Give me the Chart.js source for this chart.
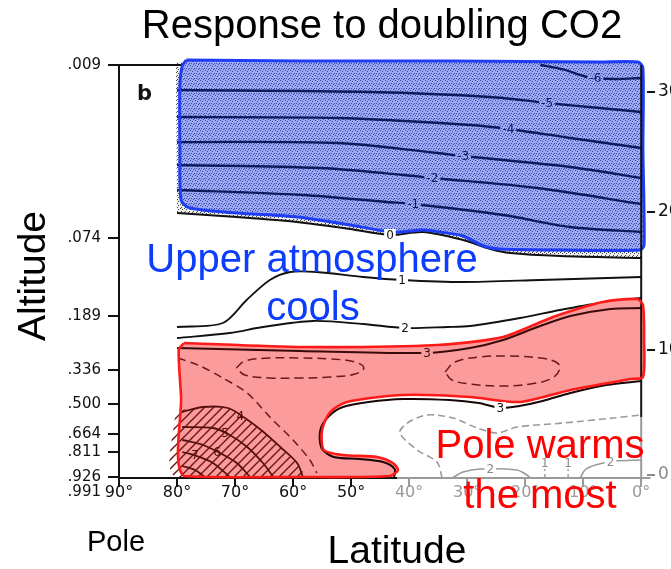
<!DOCTYPE html>
<html>
<head>
<meta charset="utf-8">
<title>Response to doubling CO2</title>
<script src="https://cdn.jsdelivr.net/npm/chart.js@4.4.1/dist/chart.umd.min.js"></script>
<style>
  html, body { margin: 0; padding: 0; background: #fff; overflow: hidden; }
  #wrap { width: 700px; height: 569px; }
</style>
</head>
<body>
<div id="wrap"><canvas id="chart" width="700" height="569"></canvas></div>
<script>
// axes: x = latitude (deg), y = position of the model level (bottom = 0)
const latTicks = [90, 80, 70, 60, 50, 40, 30, 20, 10, 0];
const pressureLabels = ['.009', '.074', '.189', '.336', '.500', '.664', '.811', '.926'];
const pressureLevels = [413, 240, 162, 108, 74, 44, 26, 1];
const kmLabels = ['30', '20', '10', '0'];
const kmLevels = [386, 266, 128, 3];

// shaded areas [lat, level]
const stippleBand = [[80.2,416],[0,416],[0,220],[14,222],[22.6,225],[26,229],[30.7,238],[37.6,246],[43.3,243],[50.2,249],[59.3,256],[69.7,261],[80,265],[80.2,416]];
const blueRegion = [[78.4,418],[58.8,417],[32.9,417],[7.1,416],[0.5,416],[-0.3,410],[-0.3,328],[-0.5,233],[0.2,228],[14,228],[24.3,229],[27.2,232],[30.7,242],[34.7,246],[37.6,248],[41.6,246],[43.3,246],[50.2,253],[59.3,261],[69.7,265],[77.8,270],[79.3,278],[79.5,328],[79.5,393],[79.1,412],[78.4,418]];
const redRegion = [[78.8,135],[58.3,131],[35.2,133],[23.8,141],[15.2,161],[6.6,176],[0.7,179],[-0.3,173],[-0.5,138],[-0.3,101],[1.9,99],[12.2,88],[20.9,76],[29.5,81],[41,83],[50.7,76],[53.6,66],[55,48],[54.7,28],[51.4,23],[45.5,21],[42.8,15],[41.9,8],[43.3,2],[58.3,1],[78.8,2],[79.3,81],[79.7,128],[78.8,135]];
const hatchRegion = [[80.3,67],[75.5,71],[71.2,70],[68.3,60],[65.3,47],[62.2,31],[59.3,15],[58.3,1],[80.3,1],[80.3,67]];

// stratosphere contours (cooling)
const cm6 = [[17.4,413],[13.1,408],[9.3,401],[4.5,399],[0,400]];
const cm5 = [[80,388],[46.7,386],[26,381],[16.2,375],[7.1,370],[0,366]];
const cm4 = [[80,361],[52.4,360],[29.5,353],[22.9,349],[12.2,340],[0,330]];
const cm3 = [[80,336],[52.4,335],[35.2,325],[30.7,322],[12.2,311],[0,300]];
const cm2 = [[80,313],[55.3,310],[41,303],[36,300],[17.9,290],[0,274]];
const cm1 = [[80,288],[58.3,283],[43.8,276],[39.3,274],[23.8,263],[12.2,251],[0,246]];
const c0 = [[80,265],[69.7,261],[59.3,256],[50.2,249],[43.3,243],[37.6,246],[30.7,238],[26,229],[22.6,225],[14,222],[0,220]];

// troposphere contours (warming)
const c1 = [[80,151],[72.1,155],[68,178],[64,198],[60.5,206],[55.9,206],[47.9,201],[41.2,198],[30.7,196],[17.4,198],[0,201]];
const c2 = [[80,140],[70.9,145],[65.2,151],[56.6,157],[47.9,154],[40.7,150],[33.4,151],[29.5,152],[20.9,160],[14,168],[7.1,175],[0,180]];
const c3Upper = [[80,130],[58.8,127],[36.9,125],[29.5,130],[23.8,138],[17.4,152],[12.2,162],[5.3,169],[0,170]];
const c3Lower = [[0,97],[6,93],[12.2,85],[17,77],[21,72],[24.3,70],[28,75],[33,78],[41,79],[47,76],[51.4,71],[53.8,62],[55.3,48],[55.1,30],[53,21],[48.5,19],[44.5,16],[42.5,9],[42.6,0]];
const dashDiag = [[79.8,120],[76,112],[72.1,100],[67.9,85],[64,61],[60,38],[57.1,18],[55.9,5]];
const ellipse1 = [[69.8,110],[68.3,117],[64,120],[58.8,120],[53.6,119],[49.3,116],[47.8,110],[49.3,104],[53.6,101],[58.8,100],[64,100],[68.3,103],[69.8,110]];
const ellipse2 = [[33.8,106],[32.1,116],[27.8,121],[22.6,122],[17.4,120],[14.7,116],[14,110],[15.3,100],[19.1,94],[24.3,92],[29.5,94],[32.6,98],[33.8,106]];
const c4 = [[79.1,66],[75.5,71],[71.2,70],[68.3,60],[65.3,47],[62.2,31],[59.3,15],[58.3,1]];
const c5 = [[79.1,51],[73.8,50],[71.2,44],[67.9,31],[65.2,15],[63.4,1]];
const c6 = [[79.1,38],[75.5,33],[72.6,25],[69.7,15],[67.4,1]];
const c7 = [[79.1,26],[76.6,22],[73.8,15],[70.9,1]];
const c8 = [[79.1,12],[76.9,8],[75.2,1]];

// faded contours near the surface, low latitudes
const greyDash = [[34.3,0],[35.2,16],[38.6,28],[41.6,45],[40.3,55],[36.9,63],[32.4,60],[28.3,50],[24.8,45],[21.4,51],[13.4,55],[4.8,60],[0,63]];
const greyArc1 = [[32.6,0],[30.7,6],[27.8,9],[21.4,8],[19.7,3],[19.1,0]];
const greyArc2 = [[10.5,0],[9.7,8],[7.9,13],[4.5,17],[0,18]];
const greyTick1 = [[16.6,0],[16.6,15]];
const greyTick2 = [[12.6,0],[12.6,15]];

// contour value labels [text, lat, level, style]
const contourLabels = [
    ['-6', 7.9, 400, 'blue'], ['-5', 16.2, 375, 'blue'], ['-4', 22.9, 349, 'blue'],
    ['-3', 30.7, 322, 'blue'], ['-2', 36, 300, 'blue'], ['-1', 39.3, 274, 'blue'],
    ['0', 43.3, 243, 'white'], ['1', 41.2, 198, 'white'], ['2', 40.7, 150, 'white'],
    ['3', 36.9, 125, 'red'], ['3', 24.3, 70, 'white'],
    ['4', 69.1, 62, 'hatch'], ['5', 71.7, 45, 'hatch'], ['6', 73.1, 26, 'hatch'], ['7', 76.9, 23, 'hatch'],
    ['2', 26, 9, 'grey'], ['2', 5.3, 16, 'grey'], ['1', 16.6, 15, 'grey'], ['1', 12.6, 15, 'grey']
];

function makeStipple(size, base, dot, dots) {
    const c = document.createElement('canvas');
    c.width = c.height = size;
    const g = c.getContext('2d');
    g.fillStyle = base;
    g.fillRect(0, 0, size, size);
    g.fillStyle = dot;
    dots.forEach(d => g.fillRect(d[0], d[1], 1, 1));
    return g.createPattern(c, 'repeat');
}

function makeHatch(size, color) {
    const c = document.createElement('canvas');
    c.width = c.height = size;
    const g = c.getContext('2d');
    g.strokeStyle = color;
    g.lineWidth = 1.4;
    g.beginPath();
    g.moveTo(0, size); g.lineTo(size, 0);
    g.moveTo(-1, 1); g.lineTo(1, -1);
    g.moveTo(size - 1, size + 1); g.lineTo(size + 1, size - 1);
    g.stroke();
    return g.createPattern(c, 'repeat');
}

const bluePattern = makeStipple(5, '#9ba8f4', '#3d4aa6', [[0,0],[2,1],[4,3],[1,3],[3,4]]);
const greyPattern = makeStipple(4, '#eeeeee', '#444444', [[0,0],[2,1],[1,3]]);
const hatchPattern = makeHatch(9, '#6a1414');

const labelStyle = {
    blue: { fg: '#0d1a5c', bg: bluePattern },
    white: { fg: '#111', bg: '#fff' },
    red: { fg: '#3a0a0a', bg: '#fb9b9b' },
    hatch: { fg: '#4a0c0c', bg: null },
    grey: { fg: '#8a8a8a', bg: '#fff' }
};

let order = 1000;
function series(points, opts) {
    return Object.assign({
        data: points.map(p => ({ x: p[0], y: p[1] })),
        pointRadius: 0,
        borderWidth: 2,
        borderColor: '#111',
        backgroundColor: 'transparent',
        fill: false,
        tension: 0.3,
        clip: false,
        order: order--
    }, opts);
}

const datasets = [
    series(stippleBand, { borderWidth: 0, backgroundColor: greyPattern, fill: 'shape', tension: 0 }),
    series([[90,413],[0,413]], { tension: 0 }),
    series(blueRegion, { borderWidth: 0, backgroundColor: bluePattern, fill: 'shape', tension: 0.25 }),
    series(cm6, { borderColor: '#0d1a5c', borderWidth: 2.3 }),
    series(cm5, { borderColor: '#0d1a5c', borderWidth: 2.3 }),
    series(cm4, { borderColor: '#0d1a5c', borderWidth: 2.3 }),
    series(cm3, { borderColor: '#0d1a5c', borderWidth: 2.3 }),
    series(cm2, { borderColor: '#0d1a5c', borderWidth: 2.3 }),
    series(cm1, { borderColor: '#0d1a5c', borderWidth: 2.3 }),
    series(c0, { borderColor: '#111' }),
    series(blueRegion, { borderColor: '#1f3df5', borderWidth: 3, tension: 0.25 }),
    series(c1, { borderWidth: 1.8 }),
    series(c2, { borderWidth: 1.8 }),
    series(redRegion, { borderWidth: 0, backgroundColor: '#fb9b9b', fill: 'shape', tension: 0.25 }),
    series(c3Upper, { borderColor: '#3a0a0a' }),
    series(c3Lower, { borderColor: '#1a0505' }),
    series(dashDiag, { borderColor: '#6b1a1a', borderWidth: 1.5, borderDash: [8, 5] }),
    series(ellipse1, { borderColor: '#6b1a1a', borderWidth: 1.5, borderDash: [9, 5], tension: 0.4 }),
    series(ellipse2, { borderColor: '#6b1a1a', borderWidth: 1.5, borderDash: [9, 5], tension: 0.4 }),
    series(hatchRegion, { borderWidth: 0, backgroundColor: hatchPattern, fill: 'shape', tension: 0.3 }),
    series(c4, { borderColor: '#5a1010', borderWidth: 1.8 }),
    series(c5, { borderColor: '#5a1010', borderWidth: 1.8 }),
    series(c6, { borderColor: '#5a1010', borderWidth: 1.8 }),
    series(c7, { borderColor: '#5a1010', borderWidth: 1.8 }),
    series(c8, { borderColor: '#5a1010', borderWidth: 1.8 }),
    series(greyDash, { borderColor: '#9a9a9a', borderWidth: 1.6, borderDash: [7, 4] }),
    series(greyArc1, { borderColor: '#9a9a9a', borderWidth: 1.6 }),
    series(greyArc2, { borderColor: '#9a9a9a', borderWidth: 1.6 }),
    series(greyTick1, { borderColor: '#9a9a9a', borderWidth: 1.4, borderDash: [4, 3], tension: 0 }),
    series(greyTick2, { borderColor: '#9a9a9a', borderWidth: 1.4, borderDash: [4, 3], tension: 0 }),
    // frame
    series([[90,0],[90,413]], { tension: 0 }),
    series([[0,61],[0,413]], { tension: 0 }),
    series([[0,0],[0,61]], { borderColor: '#9a9a9a', tension: 0 }),
    series([[90,0],[42,0]], { tension: 0 }),
    series([[42,0],[-1.6,0]], { borderColor: '#9a9a9a', tension: 0 }),
    series(redRegion, { borderColor: '#ff1a1a', borderWidth: 2.6, tension: 0.25 })
];

const figureText = {
    id: 'figureText',
    afterDatasetsDraw(chart) {
        const { ctx, scales: { x, y } } = chart;
        ctx.save();
        ctx.font = '12px "DejaVu Sans", sans-serif';
        ctx.textAlign = 'center';
        ctx.textBaseline = 'middle';
        contourLabels.forEach(([t, lat, lev, kind]) => {
            const px = x.getPixelForValue(lat);
            const py = y.getPixelForValue(lev);
            const st = labelStyle[kind];
            const w = ctx.measureText(t).width + 4;
            if (st.bg) {
                ctx.fillStyle = st.bg;
                ctx.fillRect(px - w / 2, py - 6, w, 12);
            }
            ctx.fillStyle = st.fg;
            ctx.fillText(t, px, py + 1);
        });
        ctx.restore();
    },
    afterDraw(chart) {
        const ctx = chart.ctx;
        const font = size => size + 'px "Liberation Sans", Arial, sans-serif';
        ctx.save();
        ctx.textBaseline = 'alphabetic';
        ctx.textAlign = 'center';
        ctx.fillStyle = '#000';
        ctx.font = font(40);
        ctx.fillText('Response to doubling CO2', 382, 38);
        ctx.font = font(39);
        ctx.fillText('Latitude', 397, 563);
        ctx.save();
        ctx.translate(45, 276);
        ctx.rotate(-Math.PI / 2);
        ctx.fillText('Altitude', 0, 0);
        ctx.restore();
        ctx.textAlign = 'left';
        ctx.font = font(29);
        ctx.fillText('Pole', 87, 551);

        ctx.textAlign = 'center';
        ctx.font = font(40);
        ctx.fillStyle = '#0d3dfc';
        ctx.fillText('Upper atmosphere', 312, 272);
        ctx.fillText('cools', 313, 320);
        ctx.fillStyle = '#ff0000';
        ctx.fillText('Pole warms', 540, 458);
        ctx.fillText('the most', 540, 508);

        ctx.fillStyle = '#111';
        ctx.textAlign = 'left';
        ctx.font = 'bold 21px "DejaVu Sans", sans-serif';
        ctx.fillText('b', 137, 100);
        ctx.textAlign = 'right';
        ctx.textBaseline = 'middle';
        ctx.font = '15px "DejaVu Sans", sans-serif';
        ctx.fillText('.991', 101, 492);
        ctx.restore();
    }
};

new Chart(document.getElementById('chart'), {
    type: 'line',
    data: { datasets: datasets },
    options: {
        responsive: false,
        animation: false,
        events: [],
        layout: { padding: { top: 58, left: 0, right: 0, bottom: 0 } },
        plugins: { legend: { display: false }, tooltip: { enabled: false }, title: { display: false } },
        scales: {
            x: {
                type: 'linear', min: -1, max: 90, reverse: true,
                afterBuildTicks: s => { s.ticks = latTicks.map(v => ({ value: v })); },
                afterFit: s => { s.height = 91; },
                ticks: {
                    autoSkip: false, maxRotation: 0, padding: -2,
                    callback: v => v + '°',
                    color: c => c.tick && c.tick.value <= 40 ? '#9a9a9a' : '#111',
                    font: { family: 'DejaVu Sans', size: 16, lineHeight: 1 }
                },
                grid: {
                    drawOnChartArea: false, tickLength: 9, lineWidth: 2,
                    color: c => c.tick && c.tick.value <= 40 ? '#9a9a9a' : '#111'
                },
                border: { display: false }
            },
            y: {
                type: 'linear', min: 0, max: 420,
                afterBuildTicks: s => { s.ticks = pressureLevels.map(v => ({ value: v })); },
                afterFit: s => { s.width = 119; },
                ticks: {
                    autoSkip: false, padding: 7, color: '#111',
                    callback: v => pressureLabels[pressureLevels.indexOf(v)],
                    font: { family: 'DejaVu Sans', size: 15 }
                },
                grid: { drawOnChartArea: false, tickLength: 11, lineWidth: 2, color: '#111' },
                border: { display: false }
            },
            y2: {
                type: 'linear', position: 'right', min: 0, max: 420,
                afterBuildTicks: s => { s.ticks = kmLevels.map(v => ({ value: v })); },
                afterFit: s => { s.width = 53; },
                ticks: {
                    autoSkip: false, padding: 3,
                    callback: v => kmLabels[kmLevels.indexOf(v)],
                    color: c => c.tick && c.tick.value < 50 ? '#8a8a8a' : '#111',
                    font: { family: 'DejaVu Sans', size: 17 }
                },
                grid: {
                    drawOnChartArea: false, tickLength: 8, lineWidth: 2,
                    color: c => c.tick && c.tick.value < 50 ? '#8a8a8a' : '#111'
                },
                border: { display: false }
            }
        }
    },
    plugins: [figureText]
});
</script>
</body>
</html>
